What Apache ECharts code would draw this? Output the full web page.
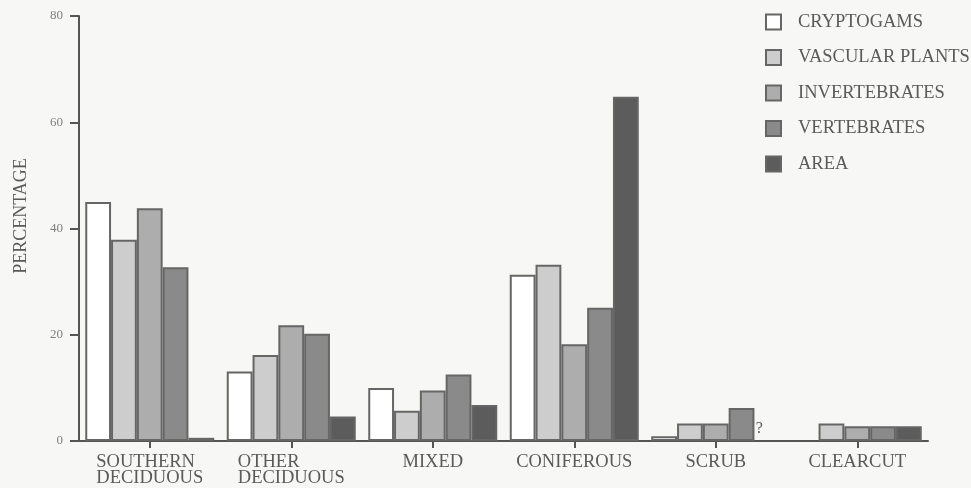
<!DOCTYPE html>
<html>
<head>
<meta charset="utf-8">
<script src="https://cdn.jsdelivr.net/npm/echarts@6/dist/echarts.min.js"></script>
<style>
html,body{margin:0;padding:0;background:#f7f7f5;}
#chart{width:971px;height:488px;}
</style>
</head>
<body>
<div id="chart"></div>
<script>
var categories = ['SOUTHERN\nDECIDUOUS', 'OTHER\nDECIDUOUS', 'MIXED', 'CONIFEROUS', 'SCRUB', 'CLEARCUT'];
var seriesNames = ['CRYPTOGAMS', 'VASCULAR PLANTS', 'INVERTEBRATES', 'VERTEBRATES', 'AREA'];
var cryptogams = [45.0, 13.1, 10.0, 31.3, 0.9, null];
var vascularPlants = [37.9, 16.2, 5.7, 33.2, 3.3, 3.3];
var invertebrates = [43.8, 21.8, 9.5, 18.2, 3.3, 2.8];
var vertebrates = [32.7, 20.2, 12.5, 25.1, 6.2, 2.8];
var area = [0.6, 4.6, 6.8, 64.8, null, 2.8];
var unknownMark = '?';
var yTicks = [0, 20, 40, 60, 80];
var yAxisTitle = 'PERCENTAGE';

var fills = ['#ffffff', '#cdcdcd', '#adadad', '#8a8a8a', '#5c5c5c'];
var fontFam = '"Liberation Serif", "DejaVu Serif", serif';
var ink = '#5a5a5a';

var values = [cryptogams, vascularPlants, invertebrates, vertebrates, area];

var series = values.map(function (arr, i) {
  var data = arr.map(function (v, j) {
    if (i === 4 && v === null && categories[j] === 'SCRUB') {
      return {
        value: 0,
        itemStyle: { borderWidth: 0, color: 'rgba(0,0,0,0)' },
        label: {
          show: true, formatter: unknownMark, position: 'top', distance: 4,
          offset: [-8, 0], color: ink, fontSize: 16, fontFamily: fontFam
        }
      };
    }
    return v;
  });
  return {
    name: seriesNames[i],
    type: 'bar',
    data: data,
    barWidth: 25.8,
    barGap: '0%',
    itemStyle: { color: fills[i], borderColor: '#666', borderWidth: 2 },
    emphasis: { disabled: true }
  };
});

var chart = echarts.init(document.getElementById('chart'), null, { renderer: 'canvas' });
chart.setOption({
  backgroundColor: '#f7f7f5',
  animation: false,
  grid: { left: 79, right: 43, top: 16, bottom: 46, containLabel: false },
  legend: {
    orient: 'vertical',
    left: 765,
    top: 12.5,
    padding: 0,
    itemWidth: 15,
    itemHeight: 15,
    itemGap: 16.5,
    icon: 'rect',
    textStyle: { color: ink, fontSize: 18.5, fontFamily: fontFam, padding: [0, 0, 0, 12] },
    itemStyle: { borderColor: '#666', borderWidth: 2 },
    data: seriesNames
  },
  graphic: [{
    type: 'text',
    x: 21,
    y: 216,
    rotation: Math.PI / 2,
    style: {
      text: yAxisTitle, fill: ink, fontSize: 18, fontFamily: fontFam,
      textAlign: 'center', textVerticalAlign: 'middle'
    }
  }],
  xAxis: {
    type: 'category',
    data: categories,
    axisLine: { lineStyle: { color: '#555', width: 2 } },
    axisTick: { show: true, alignWithLabel: true, length: 7, lineStyle: { color: '#555', width: 2 } },
    axisLabel: {
      interval: 0, color: ink, fontSize: 18.5, fontFamily: fontFam, margin: 13.5, lineHeight: 16,
      verticalAlign: 'top',
      formatter: function (v) {
        var lines = v.split('\n');
        if (lines.length < 2) return v;
        return lines.map(function (s) { return '{l|' + s + '}'; }).join('\n');
      },
      rich: {
        l: { align: 'left', color: ink, fontSize: 18.5, fontFamily: fontFam, lineHeight: 16 }
      }
    }
  },
  yAxis: {
    type: 'value',
    min: yTicks[0],
    max: yTicks[yTicks.length - 1],
    interval: 20,
    axisLine: { show: true, lineStyle: { color: '#555', width: 2 } },
    axisTick: { show: true, length: 9, lineStyle: { color: '#555', width: 2 } },
    axisLabel: { color: '#808080', fontSize: 13, fontFamily: fontFam, margin: 16 },
    splitLine: { show: false }
  },
  series: series
});
</script>
</body>
</html>
